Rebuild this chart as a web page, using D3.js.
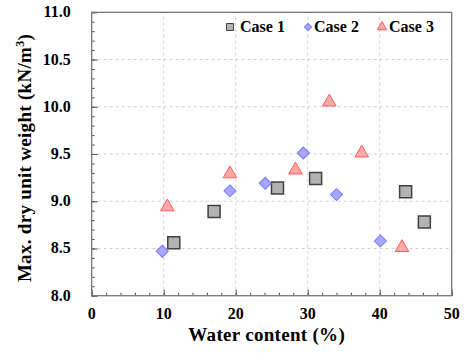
<!DOCTYPE html>
<html>
<head>
<meta charset="utf-8">
<script src="https://cdn.jsdelivr.net/npm/d3@7"></script>
<style>
  body { margin: 0; background: #fff; }
  text { font-family: "Liberation Serif", "Times New Roman", serif; font-weight: bold; }
</style>
</head>
<body>
<script>
var width = 464;
var height = 354;

// data
var case1 = [[11.4, 8.56], [17.0, 8.89], [25.8, 9.14], [31.1, 9.24], [43.6, 9.10], [46.2, 8.78]];
var case2 = [[9.8, 8.47], [19.2, 9.11], [24.1, 9.19], [29.4, 9.51], [34.0, 9.07], [40.1, 8.58]];
var case3 = [[10.5, 8.94], [19.2, 9.29], [28.3, 9.33], [33.0, 10.05], [37.5, 9.51], [43.1, 8.51]];
var seriesNames = ["Case 1", "Case 2", "Case 3"];
var xTicks = [0, 10, 20, 30, 40, 50];
var yTicks = [8.0, 8.5, 9.0, 9.5, 10.0, 10.5, 11.0];

var margin = {left: 91.7, right: 12.3, top: 12.3, bottom: 58.3};

var svg = d3.select("body").append("svg")
    .attr("width", width)
    .attr("height", height);

var x = d3.scaleLinear().domain([0, 50]).range([margin.left, width - margin.right]);
var y = d3.scaleLinear().domain([8, 11]).range([height - margin.bottom, margin.top]);

// grid
svg.append("g").selectAll("line")
    .data(xTicks.slice(1, -1))
  .enter().append("line")
    .attr("x1", function (d) { return x(d); })
    .attr("x2", function (d) { return x(d); })
    .attr("y1", y(8)).attr("y2", y(11))
    .style("stroke", "#d0d0d0").style("stroke-dasharray", "3,3");
svg.append("g").selectAll("line")
    .data(yTicks.slice(1, -1))
  .enter().append("line")
    .attr("x1", x(0)).attr("x2", x(50))
    .attr("y1", function (d) { return y(d); })
    .attr("y2", function (d) { return y(d); })
    .style("stroke", "#d0d0d0").style("stroke-dasharray", "3,3");

// minor + major ticks (inward)
function tickStyle(g) { g.select(".domain").remove(); g.selectAll("line").style("stroke", "#555"); }
var xMinor = d3.range(0, 50.01, 2);
svg.append("g").call(d3.axisTop(x).tickValues(xMinor).tickSize(3).tickFormat(""))
    .attr("transform", "translate(0," + y(8) + ")").call(tickStyle);
svg.append("g").call(d3.axisTop(x).tickValues(xTicks).tickSize(6).tickFormat(""))
    .attr("transform", "translate(0," + y(8) + ")").call(tickStyle);
var yMinor = d3.range(80, 110.1, 1).map(function (d) { return d / 10; });
svg.append("g").call(d3.axisRight(y).tickValues(yMinor).tickSize(3).tickFormat(""))
    .attr("transform", "translate(" + x(0) + ",0)").call(tickStyle);
svg.append("g").call(d3.axisRight(y).tickValues(yTicks).tickSize(6).tickFormat(""))
    .attr("transform", "translate(" + x(0) + ",0)").call(tickStyle);

// frame
svg.append("rect")
    .attr("x", x(0)).attr("y", y(11))
    .attr("width", x(50) - x(0)).attr("height", y(8) - y(11))
    .style("fill", "none").style("stroke", "#777").style("stroke-width", 1.3);

// tick labels
svg.append("g").selectAll("text")
    .data(xTicks)
  .enter().append("text")
    .attr("x", function (d) { return x(d); })
    .attr("y", y(8) + 23)
    .attr("text-anchor", "middle")
    .style("font-size", "16px")
    .text(function (d) { return d; });
svg.append("g").selectAll("text")
    .data(yTicks)
  .enter().append("text")
    .attr("x", x(0) - 21)
    .attr("y", function (d) { return y(d) + 5; })
    .attr("text-anchor", "end")
    .style("font-size", "16px")
    .text(function (d) { return d3.format(".1f")(d); });

// axis titles
svg.append("text")
    .attr("x", (x(0) + x(50)) / 2 - 5).attr("y", 341)
    .attr("text-anchor", "middle")
    .style("font-size", "19px")
    .style("letter-spacing", "0.3px")
    .text("Water content (%)");
var yt = svg.append("text")
    .attr("transform", "translate(31," + ((y(8) + y(11)) / 2 + 4) + ") rotate(-90)")
    .attr("text-anchor", "middle")
    .style("font-size", "19px")
    .style("letter-spacing", "0.3px");
yt.append("tspan").text("Max. dry unit weight (kN/m");
yt.append("tspan").attr("dy", -7).style("font-size", "12px").text("3");
yt.append("tspan").attr("dy", 7).text(")");

// markers
var sym = [d3.symbolSquare, d3.symbolSquare, d3.symbolTriangle];
var rot = [0, 45, 0];
var fills = ["#b3b3b3", "#a8a8ff", "#ffa8a8"];
var strokes = ["#404040", "#7777ff", "#ff5c5c"];
var sizes = [144, 72, 80];
var allData = [case1, case2, case3];

allData.forEach(function (data, k) {
  svg.append("g").selectAll("path")
      .data(data)
    .enter().append("path")
      .attr("transform", function (d) { return "translate(" + x(d[0]) + "," + y(d[1]) + ") rotate(" + rot[k] + ")"; })
      .attr("d", d3.symbol().type(sym[k]).size(sizes[k]))
      .style("fill", fills[k])
      .style("stroke", strokes[k])
      .style("stroke-width", k == 0 ? 1.5 : 1);
});

// legend
var legMarkX = [230, 308, 382];
var legTextX = [240, 314, 389];
var legend = svg.append("g").selectAll("g")
    .data(seriesNames)
  .enter().append("g");
legend.append("path")
    .attr("transform", function (d, i) { return "translate(" + legMarkX[i] + ",27) rotate(" + rot[i] + ")"; })
    .attr("d", function (d, i) { return d3.symbol().type(sym[i]).size(i == 0 ? 49 : (i == 1 ? 25 : 40))(); })
    .style("fill", function (d, i) { return fills[i]; })
    .style("stroke", function (d, i) { return strokes[i]; })
    .style("stroke-width", 1);
legend.append("text")
    .attr("x", function (d, i) { return legTextX[i]; }).attr("y", 32)
    .style("font-size", "16px")
    .text(function (d) { return d; });
</script>
</body>
</html>
